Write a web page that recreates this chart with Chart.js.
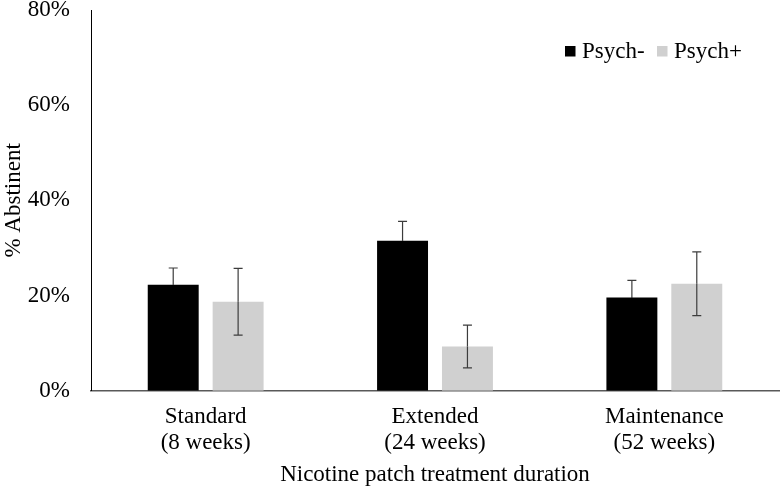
<!DOCTYPE html>
<html>
<head>
<meta charset="utf-8">
<script src="https://cdn.jsdelivr.net/npm/chart.js@4.4.0/dist/chart.umd.min.js"></script>
<style>
  html, body { margin: 0; padding: 0; background: #fff; }
  #wrap { width: 780px; height: 491px; position: relative; }
</style>
</head>
<body>
<div id="wrap"><canvas id="abstChart"></canvas></div>
<script>
// Chart data
const categories = [['Standard', '(8 weeks)'], ['Extended', '(24 weeks)'], ['Maintenance', '(52 weeks)']];
const psychMinus = [22.3, 31.5, 19.6];
const psychMinusErr = [3.5, 4.1, 3.6];
const psychPlus = [18.7, 9.3, 22.5];
const psychPlusErr = [7.0, 4.5, 6.7];
const yTicks = [0, 20, 40, 60, 80];

const serif = '"Liberation Serif", "Times New Roman", serif';

// draws the error bars on top of each bar
// (the part inside a black bar is drawn black, so it disappears as in the original)
const errorBars = {
    id: 'errorBars',
    afterDatasetsDraw(chart) {
        const ctx = chart.ctx;
        const y = chart.scales.y;
        ctx.save();
        ctx.lineWidth = 1.2;
        chart.data.datasets.forEach(function(ds, i) {
            const meta = chart.getDatasetMeta(i);
            const innerColor = ds.backgroundColor === '#000000' ? '#000000' : '#3c3c3c';
            meta.data.forEach(function(bar, j) {
                const v = ds.data[j], e = ds.errors[j];
                const top = y.getPixelForValue(v + e);
                const mid = y.getPixelForValue(v);
                const bot = y.getPixelForValue(v - e);
                const x = bar.x;
                ctx.strokeStyle = '#3c3c3c';
                ctx.beginPath();
                ctx.moveTo(x, top); ctx.lineTo(x, mid);
                ctx.moveTo(x - 4.5, top); ctx.lineTo(x + 4.5, top);
                ctx.stroke();
                ctx.strokeStyle = innerColor;
                ctx.beginPath();
                ctx.moveTo(x, mid); ctx.lineTo(x, bot);
                ctx.moveTo(x - 4.5, bot); ctx.lineTo(x + 4.5, bot);
                ctx.stroke();
            });
        });
        ctx.restore();
    }
};

// legend drawn inside the plot area, top right
const innerLegend = {
    id: 'innerLegend',
    afterDraw(chart) {
        const ctx = chart.ctx;
        ctx.save();
        ctx.font = '23px ' + serif;
        ctx.textBaseline = 'middle';
        let x = 565;
        const yMid = 51;
        chart.data.datasets.forEach(function(ds) {
            ctx.fillStyle = ds.backgroundColor;
            ctx.fillRect(x, yMid - 5, 10.5, 10.5);
            ctx.fillStyle = '#000';
            ctx.fillText(ds.label, x + 17, yMid + 1);
            x += 92;
        });
        ctx.restore();
    }
};

document.addEventListener('DOMContentLoaded', function() {
    const ctx = document.getElementById('abstChart').getContext('2d');
    new Chart(ctx, {
        type: 'bar',
        data: {
            labels: categories,
            datasets: [
                {
                    label: 'Psych-',
                    data: psychMinus,
                    errors: psychMinusErr,
                    backgroundColor: '#000000',
                    borderWidth: 0
                },
                {
                    label: 'Psych+',
                    data: psychPlus,
                    errors: psychPlusErr,
                    backgroundColor: '#d0d0d0',
                    borderWidth: 0
                }
            ]
        },
        plugins: [errorBars, innerLegend],
        options: {
            responsive: true,
            maintainAspectRatio: false,
            animation: false,
            categoryPercentage: 0.566,
            barPercentage: 0.785,
            layout: { padding: { left: 0, right: 1, top: 10, bottom: 2 } },
            scales: {
                x: {
                    grid: { display: false },
                    border: { display: true, color: '#595959', width: 1.5 },
                    ticks: {
                        color: '#000',
                        font: { family: serif, size: 23, lineHeight: 1.1 },
                        padding: 6
                    },
                    title: {
                        display: true,
                        text: 'Nicotine patch treatment duration',
                        color: '#000',
                        font: { family: serif, size: 23 },
                        padding: { top: 0, bottom: 0 }
                    }
                },
                y: {
                    min: 0,
                    max: 80,
                    afterBuildTicks: function(axis) {
                        axis.ticks = yTicks.map(function(v) { return { value: v }; });
                    },
                    afterFit: function(axis) {
                        axis.width = 91;
                        axis.paddingTop = 0;
                        axis.paddingBottom = 0;
                    },
                    grid: { display: false },
                    border: { display: true, color: '#000', width: 1 },
                    ticks: {
                        color: '#000',
                        font: { family: serif, size: 23 },
                        padding: 13,
                        callback: function(v) { return v + '%'; }
                    },
                    title: {
                        display: true,
                        text: '% Abstinent',
                        color: '#000',
                        font: { family: serif, size: 23 },
                        padding: { top: 0, bottom: 0 }
                    }
                }
            },
            plugins: {
                legend: { display: false },
                tooltip: { enabled: false }
            }
        }
    });
});
</script>
</body>
</html>
